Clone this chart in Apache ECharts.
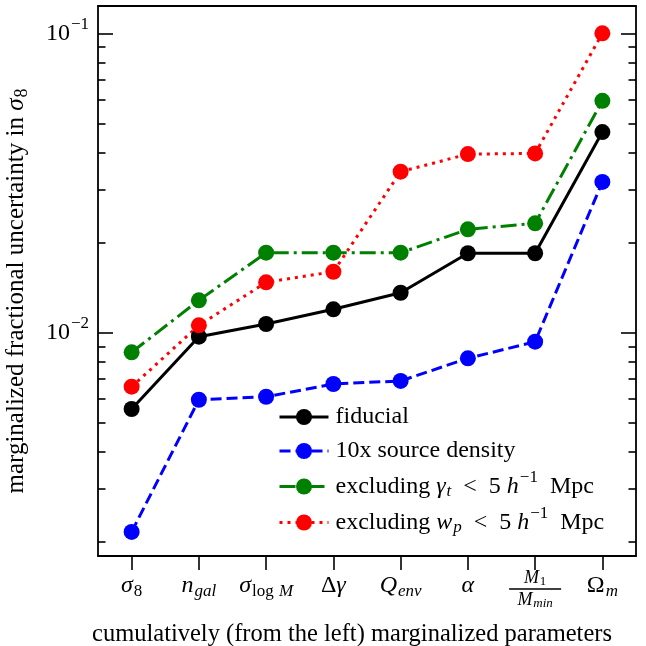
<!DOCTYPE html>
<html>
<head>
<meta charset="utf-8">
<script src="https://cdn.jsdelivr.net/npm/echarts@6/dist/echarts.min.js"></script>
<style>
  html, body { margin: 0; padding: 0; background: #ffffff; }
  #chart { width: 646px; height: 646px; }
</style>
</head>
<body>
<div id="chart"></div>
<script>
// Marginalized parameters, cumulative from the left
const categories = ['sigma8', 'ngal', 'sigmalogM', 'dgamma', 'Qenv', 'alpha', 'M1Mmin', 'OmegaM'];

// Fractional uncertainty in sigma_8
const fiducial        = [0.00556, 0.00970, 0.01069, 0.01197, 0.01360, 0.01842, 0.01842, 0.0468];
const sourceDensity10 = [0.00216, 0.00597, 0.00611, 0.00674, 0.00690, 0.00821, 0.00933, 0.0319];
const excludeGammaT   = [0.00860, 0.01283, 0.01850, 0.01850, 0.01850, 0.02215, 0.02319, 0.0595];
const excludeWp       = [0.00660, 0.01058, 0.01473, 0.01598, 0.03450, 0.03950, 0.03970, 0.1000];

// Log-axis ticks
const majorTicks = [0.01, 0.1];
const minorTicks = [0.002, 0.003, 0.004, 0.005, 0.006, 0.007, 0.008, 0.009,
                    0.02, 0.03, 0.04, 0.05, 0.06, 0.07, 0.08, 0.09];
const yRange = [0.001795, 0.1234];

const FONT = 'Liberation Serif';
const FS = 24;

// Rich-text styles for math-like labels
function richStyles(fs, lh) {
  const sub = Math.round(fs * 0.7);
  const base = { fontFamily: FONT, color: '#000' };
  const L = lh ? { lineHeight: lh } : {};
  return {
    rm:    Object.assign({}, base, L, { fontSize: fs }),
    it:    Object.assign({}, base, L, { fontSize: fs, fontStyle: 'italic' }),
    sub:   Object.assign({}, base, L, { fontSize: sub, padding: [Math.round(fs * 0.45), 0, 0, 1] }),
    subit: Object.assign({}, base, L, { fontSize: sub, fontStyle: 'italic', padding: [Math.round(fs * 0.45), 0, 0, 1] }),
    sup:   Object.assign({}, base, L, { fontSize: sub, padding: [0, 0, Math.round(fs * 0.75), 1] }),
    fnum:    Object.assign({}, base, { fontSize: 18, fontStyle: 'italic', lineHeight: 16 }),
    fnumsub: Object.assign({}, base, { fontSize: 13, lineHeight: 16, padding: [7, 0, 0, 1] }),
    fbar:    { width: 52, height: 1.4, lineHeight: 6, backgroundColor: '#000', fontSize: 1 },
    fden:    Object.assign({}, base, { fontSize: 18, fontStyle: 'italic', lineHeight: 16 }),
    fdensub: Object.assign({}, base, { fontSize: 13, fontStyle: 'italic', lineHeight: 16, padding: [7, 0, 0, 1] })
  };
}

const categoryLabels = {
  sigma8:    '{it|σ}{sub|8}',
  ngal:      '{it|n}{subit|gal}',
  sigmalogM: '{it|σ}{sub|log }{subit|M}',
  dgamma:    '{rm|Δ}{it|γ}',
  Qenv:      '{it|Q}{subit|env}',
  alpha:     '{it|α}',
  M1Mmin:    '{fnum|M}{fnumsub|1}\n{fbar| }\n{fden|M}{fdensub|min}',
  OmegaM:    '{rm|Ω}{subit|m}'
};

const seriesNames = ['fiducial', 'dense', 'noGammaT', 'noWp'];
const legendLabels = {
  fiducial: '{rm|fiducial}',
  dense:    '{rm|10x source density}',
  noGammaT: '{rm|excluding }{it|γ}{subit|t}{rm|  <  5 }{it|h}{sup|−1}{rm|  Mpc}',
  noWp:     '{rm|excluding }{it|w}{subit|p}{rm|  <  5 }{it|h}{sup|−1}{rm|  Mpc}'
};

const chart = echarts.init(document.getElementById('chart'), null, { renderer: 'canvas' });

const lineW = 3;
function makeSeries(name, data, color, dash) {
  return {
    name: name,
    type: 'line',
    data: data,
    yAxisIndex: 0,
    symbol: 'circle',
    symbolSize: 16,
    showSymbol: true,
    animation: false,
    itemStyle: { color: color, borderWidth: 0 },
    lineStyle: { color: color, width: lineW, type: dash, cap: 'butt' },
    emphasis: { disabled: true }
  };
}

function logAxis(position, tickValues, tickLen, showLine, showLabel) {
  return {
    type: 'log',
    logBase: 10,
    position: position,
    min: yRange[0],
    max: yRange[1],
    axisLine: { show: showLine, onZero: false, lineStyle: { color: '#000', width: 1.8 } },
    axisTick: { show: true, inside: true, length: tickLen, customValues: tickValues,
                lineStyle: { color: '#000', width: 1.6 } },
    axisLabel: {
      show: showLabel,
      customValues: majorTicks,
      margin: 9,
      formatter: function (v) {
        const e = Math.round(Math.log10(v));
        return '{rm|10}{sup|' + (e < 0 ? '−' + (-e) : e) + '}';
      },
      rich: richStyles(FS)
    },
    splitLine: { show: false },
    minorTick: { show: false },
    minorSplitLine: { show: false }
  };
}

// One legend block per series; tops compensate for the taller
// super/subscript rows so the rows sit at an even pitch
const legendTops = [405, 439, 469, 505];
const legends = seriesNames.map(function (name, i) {
  return {
    data: [name],
    orient: 'vertical',
    left: 278,
    top: legendTops[i],
    padding: 0,
    itemWidth: 49,
    itemHeight: 20,
    selectedMode: false,
    lineStyle: { width: lineW },
    formatter: function (n) { return legendLabels[n]; },
    textStyle: { fontFamily: FONT, fontSize: FS, color: '#000', rich: richStyles(FS), padding: [0, 0, 0, 2] }
  };
});

const option = {
  backgroundColor: '#ffffff',
  animation: false,
  grid: { left: 98, right: 10, top: 6, bottom: 90, containLabel: false, outerBoundsMode: 'none' },
  legend: legends,
  xAxis: [
    {
      type: 'category',
      data: categories,
      position: 'bottom',
      boundaryGap: true,
      axisLine: { show: true, lineStyle: { color: '#000', width: 1.8 } },
      axisTick: { show: true, alignWithLabel: true, inside: false, length: 14, lineStyle: { color: '#000', width: 1.6 } },
      axisLabel: {
        interval: 0,
        margin: 14,
        formatter: function (v) { return categoryLabels[v]; },
        rich: richStyles(FS, 32)
      },
      name: 'cumulatively (from the left) marginalized parameters',
      nameLocation: 'middle',
      nameGap: 66,
      nameTextStyle: { fontFamily: FONT, fontSize: 24.5, color: '#000', padding: [0, 30, 0, 0] },
      splitLine: { show: false }
    },
    {
      type: 'category',
      data: categories,
      position: 'top',
      axisLine: { show: true, lineStyle: { color: '#000', width: 1.8 } },
      axisTick: { show: false },
      axisLabel: { show: false },
      splitLine: { show: false }
    }
  ],
  yAxis: [
    Object.assign(logAxis('left', majorTicks, 15, true, true), {
      name: '{rm|marginalized fractional uncertainty in }{it|σ}{sub|8}',
      nameLocation: 'middle',
      nameGap: 67,
      nameRotate: 90,
      nameTextStyle: { fontFamily: FONT, fontSize: 25, color: '#000', rich: richStyles(25), padding: [0, 20, 0, 0] }
    }),
    logAxis('left', minorTicks, 7.5, false, false),
    logAxis('right', majorTicks, 15, true, false),
    logAxis('right', minorTicks, 7.5, false, false)
  ],
  series: [
    makeSeries('fiducial', fiducial, '#000000', 'solid'),
    makeSeries('dense', sourceDensity10, '#0000ff', [11, 5]),
    makeSeries('noGammaT', excludeGammaT, '#008000', [16, 5, 3, 5]),
    makeSeries('noWp', excludeWp, '#ff0000', [3, 5])
  ]
};

chart.setOption(option);
</script>
</body>
</html>
